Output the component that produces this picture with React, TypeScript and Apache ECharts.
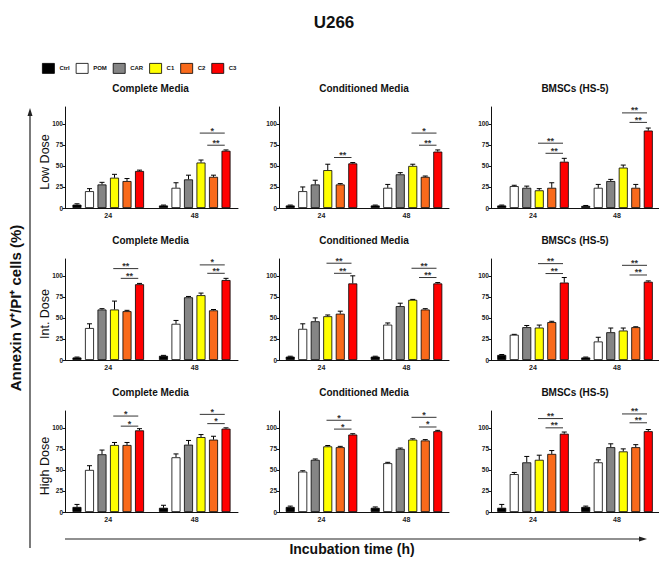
import { useEffect, useRef } from 'react'
import * as echarts from 'echarts'

const hours = ['24', '48']
const treatments = ['Ctrl', 'POM', 'CAR', 'C1', 'C2', 'C3']
const media = ['Complete Media', 'Conditioned Media', 'BMSCs (HS-5)']
const doses = ['Low Dose', 'Int. Dose', 'High Dose']
const yTicks = [0, 25, 50, 75, 100]

// mean % per hour (24h row, 48h row), bars in treatment order
// sig rows: [hour index, compared bar (3 = C1, 4 = C2) vs C3, bracket y, stars]
const lowCompleteMean = [[4, 20, 28, 36, 32, 44], [3, 24, 34, 54, 37, 68]]
const lowCompleteErr = [[1, 3, 2.5, 4, 3, 1], [0.5, 6, 5, 3, 2, 1]]
const lowCompleteSig = [[1, 3, 89, 1], [1, 4, 74.6, 2]]

const lowCondMean = [[3, 20, 28, 45, 28, 53], [3, 24, 40, 50, 37, 67]]
const lowCondErr = [[0.5, 5, 5, 7, 1, 1], [0.5, 4, 2, 2, 1, 2]]
const lowCondSig = [[0, 4, 60, 2], [1, 3, 89, 1], [1, 4, 74.6, 2]]

const lowBmscMean = [[3, 26, 24, 21, 24, 55], [2.5, 24, 32, 48, 24, 92]]
const lowBmscErr = [[0.5, 1, 2, 2, 6, 4], [0.5, 4, 2, 3, 4, 3]]
const lowBmscSig = [[0, 3, 77, 2], [0, 4, 65, 2], [1, 3, 113, 2], [1, 4, 101.7, 2]]

const intCompleteMean = [[3, 38, 60, 60, 58, 90], [5, 43, 74.5, 77, 59, 95]]
const intCompleteErr = [[0.5, 5, 1, 10, 1, 1], [0.5, 4, 1, 2.5, 1, 2]]
const intCompleteSig = [[0, 3, 108.6, 2], [0, 4, 97, 2], [1, 3, 113, 1], [1, 4, 103, 2]]

const intCondMean = [[4, 37, 46, 52, 55, 91], [4, 42, 64, 71.5, 60, 91]]
const intCondErr = [[0.5, 6, 4, 1.5, 3, 9], [0.5, 2, 3.5, 0.5, 1, 1]]
const intCondSig = [[0, 3, 115, 2], [0, 4, 103, 2], [1, 3, 109, 2], [1, 4, 98, 2]]

const intBmscMean = [[6, 30, 39, 38.5, 45, 92], [3, 22, 33, 35, 39, 93]]
const intBmscErr = [[0.5, 0.5, 2, 3, 1, 6], [0.5, 5, 5, 3, 0.5, 1]]
const intBmscSig = [[0, 3, 114.5, 2], [0, 4, 102.7, 2], [1, 3, 112.5, 2], [1, 4, 101, 2]]

const highCompleteMean = [[6, 50, 68.6, 79.6, 79.6, 97], [5, 65, 80, 89, 86, 99]]
const highCompleteErr = [[3, 5, 5, 3, 3, 2], [3, 4, 5, 3, 4, 1]]
const highCompleteSig = [[0, 3, 114, 1], [0, 4, 102, 1], [1, 3, 116, 1], [1, 4, 105, 1]]

const highCondMean = [[6, 48, 62, 78, 77, 92], [5, 58, 75, 86, 85, 96]]
const highCondErr = [[1, 1, 1, 1, 1, 1], [1, 1, 1, 1, 1, 1]]
const highCondSig = [[0, 3, 109, 1], [0, 4, 98.5, 1], [1, 3, 112.5, 1], [1, 4, 101, 1]]

const highBmscMean = [[5, 45, 59, 62, 69, 93], [6, 59, 77, 72, 77, 96]]
const highBmscErr = [[4, 2, 7, 5.5, 4, 2], [1, 3, 4, 3, 3, 2]]
const highBmscSig = [[0, 3, 111, 2], [0, 4, 100, 2], [1, 3, 116.5, 2], [1, 4, 106, 2]]

const panels = [
  [lowCompleteMean, lowCompleteErr, lowCompleteSig],
  [lowCondMean, lowCondErr, lowCondSig],
  [lowBmscMean, lowBmscErr, lowBmscSig],
  [intCompleteMean, intCompleteErr, intCompleteSig],
  [intCondMean, intCondErr, intCondSig],
  [intBmscMean, intBmscErr, intBmscSig],
  [highCompleteMean, highCompleteErr, highCompleteSig],
  [highCondMean, highCondErr, highCondSig],
  [highBmscMean, highBmscErr, highBmscSig],
]

const COLORS = ['#000000', '#ffffff', '#858585', '#ffff00', '#f96a1b', '#ff0000']
const FONT = '"Liberation Sans", Arial, Helvetica, sans-serif'
const COL_LEFT = [65, 279, 491]
const COL_WIDTH = [173, 170, 168]
const ROW_BOTTOM = [208, 360, 512]
const PLOT_H = 101
const BAR_W = 9
const BAR_PITCH = 12.5

function buildOption() {
  const grid: any[] = []
  const xAxis: any[] = []
  const yAxis: any[] = []
  const series: any[] = []
  const graphic: any[] = []

  panels.forEach(([mean, err, sig], p) => {
    const r = Math.floor(p / 3)
    const c = p % 3
    grid.push({ left: COL_LEFT[c], top: ROW_BOTTOM[r] - PLOT_H, width: COL_WIDTH[c], height: PLOT_H })
    xAxis.push({
      gridIndex: p, type: 'category', data: hours,
      axisLine: { lineStyle: { color: '#111', width: 1 } },
      axisTick: { show: false },
      axisLabel: { fontSize: 7, fontWeight: 'bold', color: '#222', margin: 4, fontFamily: FONT },
    })
    yAxis.push({
      gridIndex: p, type: 'value', min: 0, max: 120, interval: 25,
      splitLine: { show: false },
      axisLine: { show: true, lineStyle: { color: '#111', width: 1 } },
      axisTick: { show: true, length: 2.5, customValues: yTicks, lineStyle: { color: '#111' } },
      axisLabel: {
        fontSize: 6.5, fontWeight: 'bold', color: '#222', margin: 2, fontFamily: FONT,
        customValues: yTicks, formatter: (v: number) => (v > 100 ? '' : String(v)),
      },
    })
    treatments.forEach((name, s) => {
      series.push({
        name, type: 'bar', xAxisIndex: p, yAxisIndex: p,
        barWidth: BAR_W, barGap: '39%',
        itemStyle: { color: COLORS[s], borderColor: '#000', borderWidth: 0.8 },
        data: mean.map((g: number[]) => g[s]),
      })
    })
    const errData: number[][] = []
    mean.forEach((g: number[], h: number) => g.forEach((v, s) => errData.push([h, s, v, err[h][s]])))
    series.push({
      type: 'custom', xAxisIndex: p, yAxisIndex: p, clip: false, silent: true,
      itemStyle: { color: '#000' },
      encode: { x: 0, y: 2 },
      data: errData,
      renderItem: (_: any, api: any) => {
        const h = api.value(0), s = api.value(1), v = api.value(2), e = api.value(3)
        const base = api.coord([h, v])
        const top = api.coord([h, v + e])
        const x = base[0] + (s - 2.5) * BAR_PITCH
        return {
          type: 'group',
          children: [
            { type: 'line', shape: { x1: x, y1: base[1], x2: x, y2: top[1] }, style: { stroke: '#000', lineWidth: 1 } },
            { type: 'line', shape: { x1: x - 2.5, y1: top[1], x2: x + 2.5, y2: top[1] }, style: { stroke: '#000', lineWidth: 1 } },
          ],
        }
      },
    })
    series.push({
      type: 'custom', xAxisIndex: p, yAxisIndex: p, clip: false, silent: true,
      itemStyle: { color: '#333' },
      encode: { x: 0, y: 2 },
      data: sig,
      renderItem: (_: any, api: any) => {
        const h = api.value(0), from = api.value(1), y = api.value(2), n = api.value(3)
        const pt = api.coord([h, y])
        const x1 = pt[0] + ((from === 3 ? 2.9 : 3.5) - 2.5) * BAR_PITCH
        const x2 = pt[0] + (4.9 - 2.5) * BAR_PITCH
        return {
          type: 'group',
          children: [
            { type: 'line', shape: { x1, y1: pt[1], x2, y2: pt[1] }, style: { stroke: '#333', lineWidth: 1 } },
            {
              type: 'text', x: (x1 + x2) / 2, y: pt[1] + 1.5,
              style: {
                text: '*'.repeat(n), fontSize: 9, fontWeight: 'bold', lineHeight: 8, fill: '#333',
                align: 'center', verticalAlign: 'bottom', fontFamily: FONT,
              },
            },
          ],
        }
      },
    })
    graphic.push({
      type: 'text', x: COL_LEFT[c] + COL_WIDTH[c] / 2 - (c === 0 ? 1 : 0), y: ROW_BOTTOM[r] - 120,
      style: { text: media[c], fontSize: 10, fontWeight: 'bold', fill: '#111', align: 'center', verticalAlign: 'middle', fontFamily: FONT },
    })
  })

  doses.forEach((d, r) => {
    graphic.push({
      type: 'text', x: 45, y: ROW_BOTTOM[r] - 46, rotation: Math.PI / 2,
      style: { text: d, fontSize: 12.5, fill: '#111', align: 'center', verticalAlign: 'middle', fontFamily: FONT },
    })
  })

  graphic.push(
    {
      type: 'text', x: 334, y: 22,
      style: { text: 'U266', fontSize: 17, fontWeight: 'bold', fill: '#111', align: 'center', verticalAlign: 'middle', fontFamily: FONT },
    },
    {
      type: 'text', x: 15, y: 308, rotation: Math.PI / 2,
      style: { text: 'Annexin V\u207A/PI\u207A cells (%)', fontSize: 15, fontWeight: 'bold', fill: '#111', align: 'center', verticalAlign: 'middle', fontFamily: FONT },
    },
    {
      type: 'text', x: 352, y: 549,
      style: { text: 'Incubation time (h)', fontSize: 14, fontWeight: 'bold', fill: '#111', align: 'center', verticalAlign: 'middle', fontFamily: FONT },
    },
    { type: 'line', shape: { x1: 30, y1: 548, x2: 30, y2: 114 }, style: { stroke: '#222', lineWidth: 1.2 } },
    { type: 'polygon', shape: { points: [[30, 108], [27.5, 116], [32.5, 116]] }, style: { fill: '#222' } },
    { type: 'line', shape: { x1: 65, y1: 539, x2: 641, y2: 539 }, style: { stroke: '#222', lineWidth: 1.2 } },
    { type: 'polygon', shape: { points: [[647, 539], [639, 536.5], [639, 541.5]] }, style: { fill: '#222' } },
  )

  return {
    animation: false,
    backgroundColor: '#ffffff',
    legend: {
      data: treatments, left: 37, top: 58, itemWidth: 12, itemHeight: 10, itemGap: 6,
      icon: 'rect', selectedMode: false,
      itemStyle: { borderColor: '#000', borderWidth: 0.8 },
      textStyle: { fontSize: 6, fontWeight: 'bold', color: '#111', fontFamily: FONT },
    },
    grid, xAxis, yAxis, series, graphic,
  }
}

export default function App() {
  const chartRef = useRef<HTMLDivElement>(null)

  useEffect(() => {
    if (!chartRef.current) return
    const chart = echarts.init(chartRef.current, undefined, { renderer: 'svg' })
    chart.setOption(buildOption())
    return () => chart.dispose()
  }, [])

  return <div ref={chartRef} style={{ position: 'absolute', left: 0, top: 0, width: 659, height: 561, background: '#fff' }} />
}
